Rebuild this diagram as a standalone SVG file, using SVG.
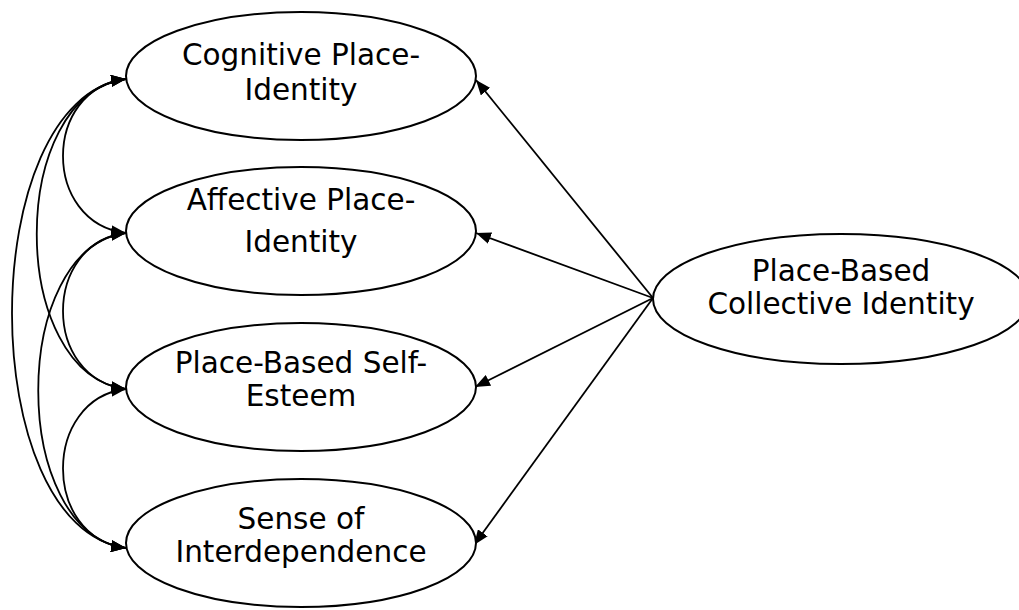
<svg xmlns="http://www.w3.org/2000/svg" width="1019" height="610" viewBox="0 0 1019 610">
  <style>
    .node ellipse { fill: #ffffff; stroke: #000000; stroke-width: 2; }
    .node text { font-family: "DejaVu Sans", "Liberation Sans", sans-serif; font-size: 29.5px; fill: #000000; text-anchor: middle; }
    .conn path, .conn line { fill: none; stroke: #000000; stroke-width: 1.8; }
  </style>
  <defs>
    <marker id="head" viewBox="0 0 15 12" refX="15" refY="6" markerWidth="15" markerHeight="12" markerUnits="userSpaceOnUse" orient="auto-start-reverse">
      <path d="M0,0 L15,6 L0,12 Z" fill="#000000"/>
    </marker>
  </defs>
  <rect width="1019" height="610" fill="#ffffff"/>

  <!-- connectors -->
  <g id="connectors" class="conn">
    <!-- covariances between the four indicators -->
    <path d="M126,79 C42,89 42,223 126,233" marker-start="url(#head)" marker-end="url(#head)"/>
    <path d="M126,79 C7,94 7,374 126,389" marker-start="url(#head)" marker-end="url(#head)"/>
    <path d="M126,79 C-26,99 -26,528 126,548" marker-start="url(#head)" marker-end="url(#head)"/>
    <path d="M126,233 C42,243 42,379 126,389" marker-start="url(#head)" marker-end="url(#head)"/>
    <path d="M126,233 C9,248 9,533 126,548" marker-start="url(#head)" marker-end="url(#head)"/>
    <path d="M126,389 C42,399 42,538 126,548" marker-start="url(#head)" marker-end="url(#head)"/>
    <!-- loadings from the collective identity factor -->
    <line x1="653" y1="298" x2="476" y2="80" marker-end="url(#head)"/>
    <line x1="653" y1="298" x2="476" y2="233" marker-end="url(#head)"/>
    <line x1="653" y1="298" x2="475" y2="387" marker-end="url(#head)"/>
    <line x1="653" y1="298" x2="474" y2="545" marker-end="url(#head)"/>
  </g>

  <g id="cognitive" class="node">
    <ellipse cx="301" cy="76" rx="175" ry="64"/>
    <text x="301" y="65">Cognitive Place-</text>
    <text x="301" y="100">Identity</text>
  </g>

  <g id="affective" class="node">
    <ellipse cx="301" cy="231" rx="175" ry="64"/>
    <text x="301" y="210">Affective Place-</text>
    <text x="301" y="252">Identity</text>
  </g>

  <g id="self-esteem" class="node">
    <ellipse cx="301" cy="387" rx="175" ry="64"/>
    <text x="301" y="373">Place-Based Self-</text>
    <text x="301" y="406">Esteem</text>
  </g>

  <g id="interdependence" class="node">
    <ellipse cx="301" cy="543" rx="175" ry="64"/>
    <text x="301" y="529">Sense of</text>
    <text x="301" y="562">Interdependence</text>
  </g>

  <g id="collective" class="node">
    <ellipse cx="841" cy="299" rx="188" ry="65"/>
    <text x="841" y="281">Place-Based</text>
    <text x="841" y="314">Collective Identity</text>
  </g>
</svg>
